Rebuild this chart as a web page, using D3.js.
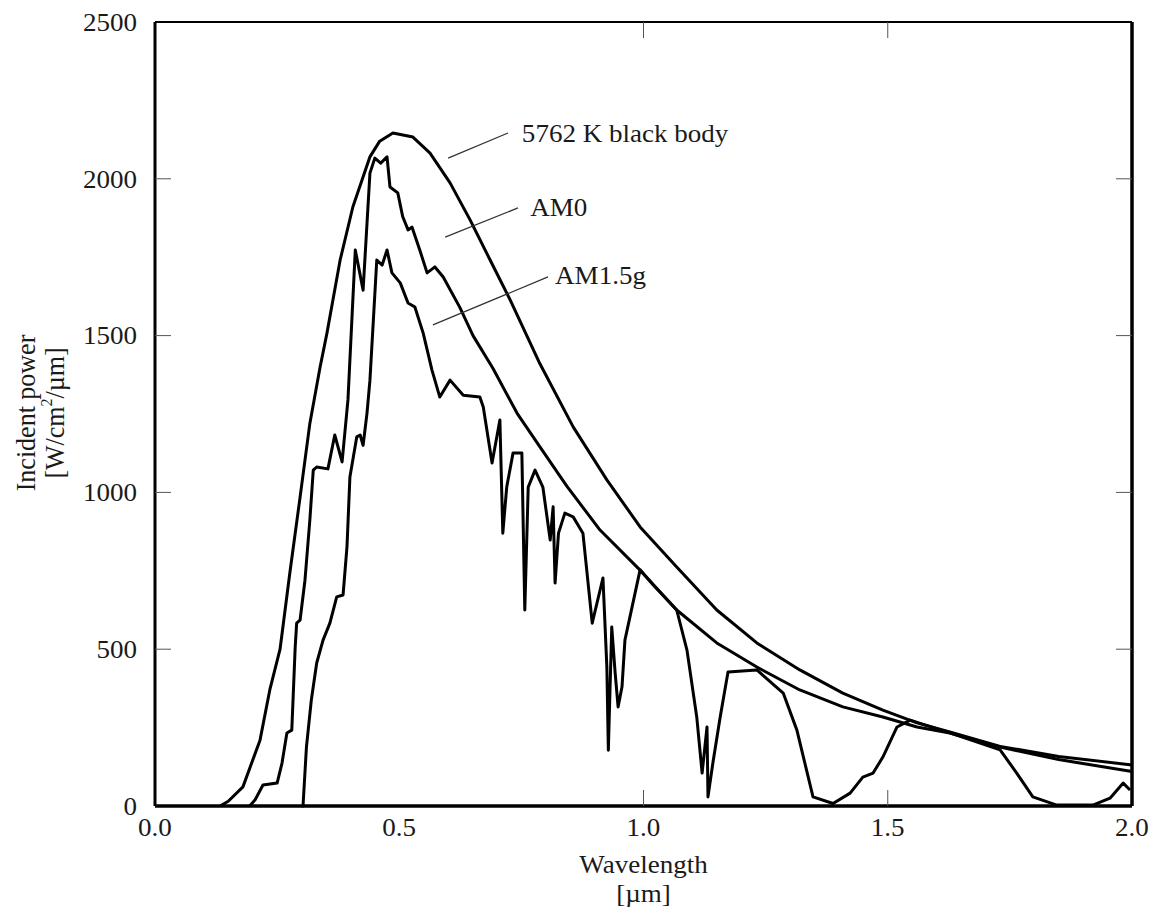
<!DOCTYPE html>
<html>
<head>
<meta charset="utf-8">
<script src="https://cdn.jsdelivr.net/npm/d3@7"></script>
<style>
  html, body { margin: 0; padding: 0; background: #fff; }
  svg { display: block; }
  text { font-family: "Liberation Serif", "Times New Roman", serif; fill: #1a1a1a; }
</style>
</head>
<body>
<div id="chart"></div>
<script>
// series: [wavelength um, W/cm2/um]
const blackBody = [
  [0.133, 0], [0.15, 15], [0.18, 61], [0.215, 210], [0.235, 370], [0.256, 500],
  [0.276, 743], [0.297, 985], [0.317, 1220], [0.338, 1400], [0.352, 1508],
  [0.379, 1741], [0.405, 1910], [0.44, 2070], [0.46, 2120], [0.487, 2146],
  [0.528, 2133], [0.563, 2082], [0.604, 1987], [0.645, 1869], [0.686, 1741],
  [0.727, 1614], [0.788, 1410], [0.856, 1209], [0.925, 1040], [0.993, 890],
  [1.068, 762], [1.15, 625], [1.232, 520], [1.32, 434], [1.408, 360],
  [1.49, 306], [1.56, 265], [1.627, 236], [1.73, 190], [1.85, 158], [2.0, 131]
];

const am0 = [
  [0.194, 0], [0.205, 20], [0.221, 67], [0.25, 73], [0.26, 137], [0.27, 233],
  [0.28, 242], [0.287, 507], [0.29, 583], [0.297, 593], [0.307, 720],
  [0.317, 912], [0.324, 1071], [0.331, 1081], [0.354, 1075], [0.368, 1183],
  [0.383, 1097], [0.395, 1295], [0.41, 1773], [0.426, 1645], [0.44, 2018],
  [0.45, 2066], [0.462, 2050], [0.475, 2070], [0.481, 1974], [0.497, 1955],
  [0.507, 1880], [0.518, 1837], [0.526, 1846], [0.542, 1773], [0.557, 1700],
  [0.573, 1719], [0.59, 1687], [0.624, 1590], [0.651, 1500], [0.692, 1395],
  [0.741, 1253], [0.788, 1145], [0.843, 1020], [0.911, 880], [0.993, 752],
  [1.068, 625], [1.15, 520], [1.232, 443], [1.32, 370], [1.408, 316],
  [1.49, 284], [1.56, 252], [1.627, 233], [1.73, 188], [1.85, 148], [2.0, 110]
];

const am15g = [
  [0.30, 0], [0.303, 0], [0.31, 188], [0.32, 338], [0.331, 456], [0.344, 529],
  [0.358, 583], [0.372, 667], [0.385, 673], [0.393, 826], [0.399, 1049],
  [0.413, 1177], [0.42, 1183], [0.426, 1150], [0.434, 1253], [0.44, 1358],
  [0.454, 1741], [0.465, 1725], [0.475, 1773], [0.485, 1700], [0.502, 1668],
  [0.518, 1604], [0.532, 1591], [0.549, 1508], [0.567, 1390], [0.583, 1304],
  [0.604, 1358], [0.631, 1310], [0.665, 1304], [0.672, 1272], [0.69, 1094],
  [0.706, 1231], [0.712, 870], [0.72, 1017], [0.733, 1126], [0.751, 1126],
  [0.757, 625], [0.764, 1017], [0.778, 1071], [0.794, 1017], [0.809, 848],
  [0.815, 954], [0.819, 711], [0.826, 870], [0.839, 934], [0.856, 922],
  [0.876, 870], [0.895, 583], [0.917, 727], [0.925, 443], [0.928, 178],
  [0.935, 571], [0.942, 424], [0.948, 316], [0.956, 380], [0.962, 529],
  [0.993, 753], [1.02, 705], [1.068, 625], [1.089, 497], [1.109, 284],
  [1.12, 105], [1.13, 252], [1.132, 29], [1.142, 137], [1.157, 284],
  [1.173, 427], [1.232, 434], [1.286, 360], [1.314, 242], [1.347, 29],
  [1.388, 8], [1.423, 41], [1.449, 92], [1.47, 105], [1.49, 156], [1.519, 252],
  [1.546, 274], [1.627, 233], [1.73, 179], [1.764, 105], [1.797, 29],
  [1.846, 3], [1.92, 3], [1.955, 25], [1.982, 73], [1.996, 51]
];

const xTicks = [0.0, 0.5, 1.0, 1.5, 2.0];
const xMarks = [1.0, 1.5];           // small tick marks visible on the frame
const yTicks = [0, 500, 1000, 1500, 2000, 2500];
const yMarks = [500, 1000, 1500, 2000];

// callouts: [label, line start, line end, text anchor] in data units
const labels = [
  ["5762 K black body", [0.600, 2066], [0.7226, 2146], [0.751, 2146]],
  ["AM0", [0.594, 1814], [0.743, 1907], [0.768, 1910]],
  ["AM1.5g", [0.569, 1534], [0.8045, 1687], [0.819, 1693]]
];

const width = 1152, height = 912;
const plotL = 155, plotR = 1132, plotT = 22, plotB = 806;
const stretch = 1.04;   // the original figure is slightly wide

const svg = d3.select("#chart").append("svg")
  .attr("width", width)
  .attr("height", height);

svg.append("rect").attr("width", width).attr("height", height).attr("fill", "#fff");

const x = d3.scaleLinear().domain([0, 2]).range([plotL, plotR]);
const y = d3.scaleLinear().domain([0, 2500]).range([plotB, plotT]);

const line = d3.line().x(d => x(d[0])).y(d => y(d[1]));

// curves
svg.selectAll(".curve")
  .data([blackBody, am0, am15g])
  .enter()
  .append("path")
  .attr("class", "curve")
  .attr("d", line)
  .attr("fill", "none")
  .attr("stroke", "#000")
  .attr("stroke-width", 3)
  .attr("stroke-linejoin", "round");

// frame
svg.append("line").attr("x1", plotL).attr("x2", plotR).attr("y1", plotT).attr("y2", plotT)
  .attr("stroke", "#000").attr("stroke-width", 2);
svg.append("line").attr("x1", plotL).attr("x2", plotR).attr("y1", plotB).attr("y2", plotB)
  .attr("stroke", "#000").attr("stroke-width", 3.5);
svg.append("line").attr("x1", plotL).attr("x2", plotL).attr("y1", plotT).attr("y2", plotB)
  .attr("stroke", "#000").attr("stroke-width", 3);
svg.append("line").attr("x1", plotR).attr("x2", plotR).attr("y1", plotT).attr("y2", plotB)
  .attr("stroke", "#000").attr("stroke-width", 3.5);

// inside tick marks
const marks = svg.append("g").attr("stroke", "#555").attr("stroke-width", 1);
xMarks.forEach(v => {
  marks.append("line").attr("x1", x(v)).attr("x2", x(v)).attr("y1", plotB).attr("y2", plotB - 16);
  marks.append("line").attr("x1", x(v)).attr("x2", x(v)).attr("y1", plotT).attr("y2", plotT + 16);
});
yMarks.forEach(v => {
  marks.append("line").attr("x1", plotL).attr("x2", plotL + 16).attr("y1", y(v)).attr("y2", y(v));
  marks.append("line").attr("x1", plotR).attr("x2", plotR - 16).attr("y1", y(v)).attr("y2", y(v));
});

function stretchedText(g, px, py, str, anchor, rot) {
  const t = g.append("g")
    .attr("transform", `translate(${px},${py}) scale(${stretch},1)` + (rot ? ` rotate(${rot})` : ""));
  return t.append("text")
    .attr("text-anchor", anchor)
    .attr("dominant-baseline", "central")
    .text(str);
}

const labs = svg.append("g").attr("font-size", 26);

// tick labels
xTicks.forEach(v => stretchedText(labs, x(v), plotB + 21, d3.format(".1f")(v), "middle"));
yTicks.forEach(v => stretchedText(labs, plotL - 18, y(v), String(v), "end"));

// axis titles
stretchedText(labs, x(1.0), 864, "Wavelength", "middle");
stretchedText(labs, x(1.0), 893, "[\u00b5m]", "middle");
stretchedText(labs, 26, 413, "Incident power", "middle", -90);
const yl2 = stretchedText(labs, 55, 413, "", "middle", -90);
yl2.append("tspan").text("[W/cm");
yl2.append("tspan").attr("dy", -9).attr("font-size", 16).text("2");
yl2.append("tspan").attr("dy", 9).text("/\u00b5m]");

// callouts
labels.forEach(([name, a, b, t]) => {
  svg.append("line")
    .attr("x1", x(a[0])).attr("y1", y(a[1]))
    .attr("x2", x(b[0])).attr("y2", y(b[1]))
    .attr("stroke", "#333").attr("stroke-width", 1.3);
  stretchedText(labs, x(t[0]), y(t[1]), name, "start");
});
</script>
</body>
</html>
